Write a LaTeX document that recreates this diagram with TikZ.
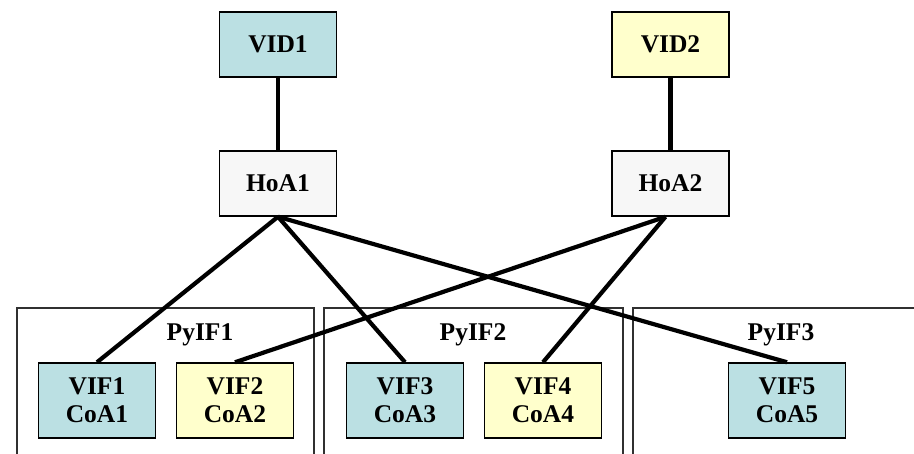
\documentclass[tikz,border=0pt]{standalone}
\usepackage{fontspec}
\setmainfont{Liberation Serif}
\definecolor{tealfill}{HTML}{BBE0E3}
\definecolor{yellowfill}{HTML}{FFFFCC}
\definecolor{grayfill}{HTML}{F7F7F7}
\definecolor{framegray}{HTML}{303030}
\begin{document}
\begin{tikzpicture}[x=1pt,y=-1pt,
  txt/.style={font=\fontsize{25.5}{28}\selectfont\bfseries},
  box/.style={txt, draw=black, line width=1.5pt, inner sep=0pt, align=center},
  topbox/.style={box, minimum width=117pt, minimum height=65pt},
  vifbox/.style={box, minimum width=117pt, minimum height=75pt},
  container/.style={draw=framegray, line width=1.2pt},
  link/.style={line width=4.2pt}
]
\useasboundingbox (0,0) rectangle (914,453);

% physical interfaces
\draw[container] (17,470) -- (17,308) -- (314,308) -- (314,470);
\draw[container] (324,470) -- (324,308) -- (623,308) -- (623,470);
\draw[container] (633,470) -- (633,308) -- (930,308);
\node[txt] (py1) at (200,335) {PyIF1};
\node[txt] (py2) at (473,335) {PyIF2};
\node[txt] (py3) at (781,335) {PyIF3};

% identifiers and home agents
\node[topbox, fill=tealfill]   (vid1) at (278,44.5)  {VID1};
\node[topbox, fill=yellowfill] (vid2) at (670.5,44.5) {VID2};
\node[topbox, fill=grayfill]   (hoa1) at (278,183.5) {HoA1};
\node[topbox, fill=grayfill]   (hoa2) at (670.5,183.5) {HoA2};

% virtual interfaces
\node[vifbox, fill=tealfill]   (vif1) at (97,400.5)  {VIF1\\CoA1};
\node[vifbox, fill=yellowfill] (vif2) at (235,400.5) {VIF2\\CoA2};
\node[vifbox, fill=tealfill]   (vif3) at (405,400.5) {VIF3\\CoA3};
\node[vifbox, fill=yellowfill] (vif4) at (543,400.5) {VIF4\\CoA4};
\node[vifbox, fill=tealfill]   (vif5) at (787,400.5) {VIF5\\CoA5};

% bindings
\draw[link] (vid1) -- (hoa1);
\draw[link] (vid2) -- (hoa2);
\draw[link] (hoa1.south) -- (vif1.north);
\draw[link] (hoa1.south) -- (vif3.north);
\draw[link] (hoa1.south) -- (vif5.north);
\draw[link] ([xshift=-5pt]hoa2.south) -- (vif2.north);
\draw[link] ([xshift=-5pt]hoa2.south) -- (vif4.north);
\end{tikzpicture}
\end{document}
